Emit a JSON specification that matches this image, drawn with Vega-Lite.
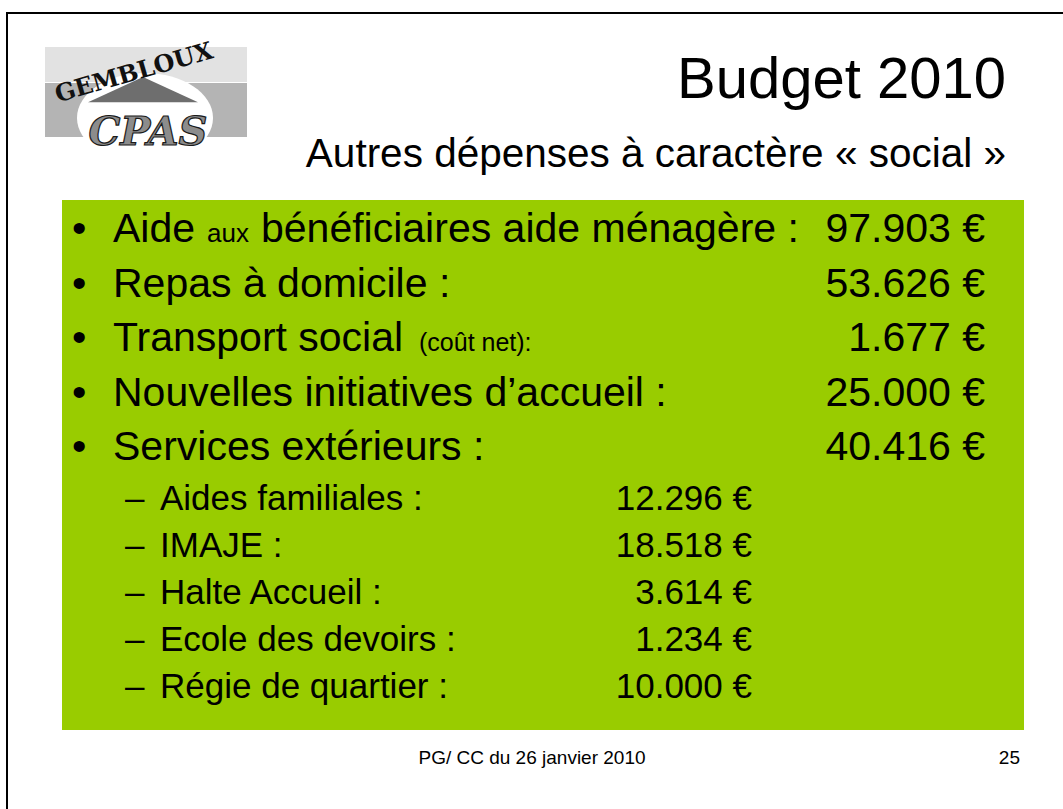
{
  "$schema": "https://vega.github.io/schema/vega-lite/v6.json",
  "width": 962,
  "height": 530,
  "autosize": {"type": "none"},
  "padding": {"left": 62, "top": 200, "right": 39, "bottom": 79},
  "background": "white",
  "view": {"fill": "#99CC00", "stroke": null},
  "config": {"text": {"font": "Liberation Sans", "color": "black", "baseline": "alphabetic"}},
  "datasets": {
    "header": [
      {"title": "Budget 2010", "subtitle": "Autres dépenses à caractère « social »"}
    ],
    "main": [
      {"line": 1, "label": "Aide", "note": "aux", "rest": "bénéficiaires aide ménagère :", "amount": "97.903 €"},
      {"line": 2, "label": "Repas à domicile :", "amount": "53.626 €"},
      {"line": 3, "label": "Transport social", "note": "(coût net):", "amount": "1.677 €"},
      {"line": 4, "label": "Nouvelles initiatives d’accueil :", "amount": "25.000 €"},
      {"line": 5, "label": "Services extérieurs :", "amount": "40.416 €"}
    ],
    "sub": [
      {"line": 1, "label": "Aides familiales :", "amount": "12.296 €"},
      {"line": 2, "label": "IMAJE :", "amount": "18.518 €"},
      {"line": 3, "label": "Halte Accueil :", "amount": "3.614 €"},
      {"line": 4, "label": "Ecole des devoirs :", "amount": "1.234 €"},
      {"line": 5, "label": "Régie de quartier :", "amount": "10.000 €"}
    ],
    "footer": [
      {"text": "PG/ CC du 26 janvier 2010", "page": "25"}
    ],
    "logo": [
      {"name": "GEMBLOUX", "initials": "CPAS"}
    ]
  },
  "resolve": {"scale": {"y": "independent"}},
  "layer": [
    {
      "data": {"name": "logo"},
      "mark": {"type": "rect", "color": "#e2e2e2"},
      "encoding": {
        "x": {"datum": 45, "type": "quantitative", "scale": {"domain": [0, 1063], "range": [-62, 1001], "zero": false, "nice": false}, "axis": null},
        "x2": {"datum": 247},
        "y": {"datum": 47, "type": "quantitative", "scale": {"domain": [0, 809], "range": [-200, 609], "zero": false, "nice": false}, "axis": null},
        "y2": {"datum": 82}
      }
    },
    {
      "data": {"name": "logo"},
      "mark": {"type": "rect", "color": "#b4b4b4"},
      "encoding": {
        "x": {"datum": 45, "type": "quantitative", "scale": {"domain": [0, 1063], "range": [-62, 1001], "zero": false, "nice": false}, "axis": null},
        "x2": {"datum": 247},
        "y": {"datum": 83, "type": "quantitative", "scale": {"domain": [0, 809], "range": [-200, 609], "zero": false, "nice": false}, "axis": null},
        "y2": {"datum": 137}
      }
    },
    {
      "data": {"name": "logo"},
      "mark": {"type": "point", "filled": true, "color": "#d6d6d6", "opacity": 1, "shape": "circle", "size": 1600},
      "encoding": {
        "x": {"datum": 143, "type": "quantitative", "scale": {"domain": [0, 1063], "range": [-62, 1001], "zero": false, "nice": false}, "axis": null},
        "y": {"datum": 92, "type": "quantitative", "scale": {"domain": [0, 809], "range": [-200, 609], "zero": false, "nice": false}, "axis": null}
      }
    },
    {
      "data": {"name": "logo"},
      "mark": {"type": "point", "filled": true, "color": "white", "opacity": 1, "shape": "M-1,0 A1,0.66 0 1,1 1,0 A1,0.66 0 1,1 -1,0 Z", "size": 18500},
      "encoding": {
        "x": {"datum": 145, "type": "quantitative", "scale": {"domain": [0, 1063], "range": [-62, 1001], "zero": false, "nice": false}, "axis": null},
        "y": {"datum": 118, "type": "quantitative", "scale": {"domain": [0, 809], "range": [-200, 609], "zero": false, "nice": false}, "axis": null}
      }
    },
    {
      "data": {"name": "logo"},
      "mark": {"type": "point", "filled": true, "color": "#6e6e6e", "opacity": 1, "shape": "M0,-0.42 L1,0.04 L-1,0.04 Z", "size": 12100},
      "encoding": {
        "x": {"datum": 143, "type": "quantitative", "scale": {"domain": [0, 1063], "range": [-62, 1001], "zero": false, "nice": false}, "axis": null},
        "y": {"datum": 100, "type": "quantitative", "scale": {"domain": [0, 809], "range": [-200, 609], "zero": false, "nice": false}, "axis": null}
      }
    },
    {
      "data": {"name": "logo"},
      "mark": {"type": "text", "font": "DejaVu Serif", "fontWeight": "bold", "fontSize": 24, "angle": 344, "align": "center", "color": "#111111"},
      "encoding": {
        "text": {"field": "name"},
        "x": {"datum": 136, "type": "quantitative", "scale": {"domain": [0, 1063], "range": [-62, 1001], "zero": false, "nice": false}, "axis": null},
        "y": {"datum": 80, "type": "quantitative", "scale": {"domain": [0, 809], "range": [-200, 609], "zero": false, "nice": false}, "axis": null}
      }
    },
    {
      "data": {"name": "logo"},
      "mark": {"type": "text", "font": "DejaVu Serif", "fontWeight": "bold", "fontStyle": "italic", "fontSize": 40, "align": "center", "color": "#8c8c8c", "stroke": "#1a1a1a", "strokeWidth": 1.2},
      "encoding": {
        "text": {"field": "initials"},
        "x": {"datum": 148, "type": "quantitative", "scale": {"domain": [0, 1063], "range": [-62, 1001], "zero": false, "nice": false}, "axis": null},
        "y": {"datum": 145, "type": "quantitative", "scale": {"domain": [0, 809], "range": [-200, 609], "zero": false, "nice": false}, "axis": null}
      }
    },
    {
      "data": {"name": "logo"},
      "mark": {"type": "rule", "color": "black", "strokeWidth": 2},
      "encoding": {
        "x": {"datum": 7, "type": "quantitative", "scale": {"domain": [0, 1063], "range": [-62, 1001], "zero": false, "nice": false}, "axis": null},
        "y": {"datum": 13, "type": "quantitative", "scale": {"domain": [0, 809], "range": [-200, 609], "zero": false, "nice": false}, "axis": null},
        "y2": {"datum": 809}
      }
    },
    {
      "data": {"name": "logo"},
      "mark": {"type": "rule", "color": "black", "strokeWidth": 2},
      "encoding": {
        "x": {"datum": 6, "type": "quantitative", "scale": {"domain": [0, 1063], "range": [-62, 1001], "zero": false, "nice": false}, "axis": null},
        "x2": {"datum": 1063},
        "y": {"datum": 13, "type": "quantitative", "scale": {"domain": [0, 809], "range": [-200, 609], "zero": false, "nice": false}, "axis": null}
      }
    },
    {
      "data": {"name": "header"},
      "mark": {"type": "text", "fontSize": 58, "align": "right"},
      "encoding": {
        "text": {"field": "title"},
        "x": {"datum": 1006, "type": "quantitative", "scale": {"domain": [0, 1063], "range": [-62, 1001], "zero": false, "nice": false}, "axis": null},
        "y": {"datum": 98, "type": "quantitative", "scale": {"domain": [0, 809], "range": [-200, 609], "zero": false, "nice": false}, "axis": null}
      }
    },
    {
      "data": {"name": "header"},
      "mark": {"type": "text", "fontSize": 40.5, "align": "right"},
      "encoding": {
        "text": {"field": "subtitle"},
        "x": {"datum": 1006, "type": "quantitative", "scale": {"domain": [0, 1063], "range": [-62, 1001], "zero": false, "nice": false}, "axis": null},
        "y": {"datum": 167, "type": "quantitative", "scale": {"domain": [0, 809], "range": [-200, 609], "zero": false, "nice": false}, "axis": null}
      }
    },
    {
      "data": {"name": "main"},
      "mark": {"type": "text", "fontSize": 41, "align": "left"},
      "encoding": {
        "text": {"value": "•"},
        "x": {"datum": 72, "type": "quantitative", "scale": {"domain": [0, 1063], "range": [-62, 1001], "zero": false, "nice": false}, "axis": null},
        "y": {"field": "line", "type": "quantitative", "scale": {"domain": [1, 5], "range": [42, 260], "zero": false, "nice": false}, "axis": null}
      }
    },
    {
      "data": {"name": "main"},
      "mark": {"type": "text", "fontSize": 41, "align": "left"},
      "encoding": {
        "text": {"field": "label"},
        "x": {"datum": 113, "type": "quantitative", "scale": {"domain": [0, 1063], "range": [-62, 1001], "zero": false, "nice": false}, "axis": null},
        "y": {"field": "line", "type": "quantitative", "scale": {"domain": [1, 5], "range": [42, 260], "zero": false, "nice": false}, "axis": null}
      }
    },
    {
      "data": {"name": "main"},
      "transform": [{"filter": "datum.line === 1"}],
      "mark": {"type": "text", "fontSize": 26, "align": "left"},
      "encoding": {
        "text": {"field": "note"},
        "x": {"datum": 207, "type": "quantitative", "scale": {"domain": [0, 1063], "range": [-62, 1001], "zero": false, "nice": false}, "axis": null},
        "y": {"field": "line", "type": "quantitative", "scale": {"domain": [1, 5], "range": [42, 260], "zero": false, "nice": false}, "axis": null}
      }
    },
    {
      "data": {"name": "main"},
      "transform": [{"filter": "datum.line === 1"}],
      "mark": {"type": "text", "fontSize": 41, "align": "left"},
      "encoding": {
        "text": {"field": "rest"},
        "x": {"datum": 261, "type": "quantitative", "scale": {"domain": [0, 1063], "range": [-62, 1001], "zero": false, "nice": false}, "axis": null},
        "y": {"field": "line", "type": "quantitative", "scale": {"domain": [1, 5], "range": [42, 260], "zero": false, "nice": false}, "axis": null}
      }
    },
    {
      "data": {"name": "main"},
      "transform": [{"filter": "datum.line === 3"}],
      "mark": {"type": "text", "fontSize": 25, "align": "left"},
      "encoding": {
        "text": {"field": "note"},
        "x": {"datum": 419, "type": "quantitative", "scale": {"domain": [0, 1063], "range": [-62, 1001], "zero": false, "nice": false}, "axis": null},
        "y": {"field": "line", "type": "quantitative", "scale": {"domain": [1, 5], "range": [42, 260], "zero": false, "nice": false}, "axis": null}
      }
    },
    {
      "data": {"name": "main"},
      "mark": {"type": "text", "fontSize": 41, "align": "right"},
      "encoding": {
        "text": {"field": "amount"},
        "x": {"datum": 985, "type": "quantitative", "scale": {"domain": [0, 1063], "range": [-62, 1001], "zero": false, "nice": false}, "axis": null},
        "y": {"field": "line", "type": "quantitative", "scale": {"domain": [1, 5], "range": [42, 260], "zero": false, "nice": false}, "axis": null}
      }
    },
    {
      "data": {"name": "sub"},
      "mark": {"type": "text", "fontSize": 35, "align": "left"},
      "encoding": {
        "text": {"value": "–"},
        "x": {"datum": 125, "type": "quantitative", "scale": {"domain": [0, 1063], "range": [-62, 1001], "zero": false, "nice": false}, "axis": null},
        "y": {"field": "line", "type": "quantitative", "scale": {"domain": [1, 5], "range": [310, 498], "zero": false, "nice": false}, "axis": null}
      }
    },
    {
      "data": {"name": "sub"},
      "mark": {"type": "text", "fontSize": 35, "align": "left"},
      "encoding": {
        "text": {"field": "label"},
        "x": {"datum": 160, "type": "quantitative", "scale": {"domain": [0, 1063], "range": [-62, 1001], "zero": false, "nice": false}, "axis": null},
        "y": {"field": "line", "type": "quantitative", "scale": {"domain": [1, 5], "range": [310, 498], "zero": false, "nice": false}, "axis": null}
      }
    },
    {
      "data": {"name": "sub"},
      "mark": {"type": "text", "fontSize": 35, "align": "right"},
      "encoding": {
        "text": {"field": "amount"},
        "x": {"datum": 752, "type": "quantitative", "scale": {"domain": [0, 1063], "range": [-62, 1001], "zero": false, "nice": false}, "axis": null},
        "y": {"field": "line", "type": "quantitative", "scale": {"domain": [1, 5], "range": [310, 498], "zero": false, "nice": false}, "axis": null}
      }
    },
    {
      "data": {"name": "footer"},
      "mark": {"type": "text", "fontSize": 19, "align": "center"},
      "encoding": {
        "text": {"field": "text"},
        "x": {"datum": 532, "type": "quantitative", "scale": {"domain": [0, 1063], "range": [-62, 1001], "zero": false, "nice": false}, "axis": null},
        "y": {"datum": 764, "type": "quantitative", "scale": {"domain": [0, 809], "range": [-200, 609], "zero": false, "nice": false}, "axis": null}
      }
    },
    {
      "data": {"name": "footer"},
      "mark": {"type": "text", "fontSize": 19, "align": "right"},
      "encoding": {
        "text": {"field": "page"},
        "x": {"datum": 1020, "type": "quantitative", "scale": {"domain": [0, 1063], "range": [-62, 1001], "zero": false, "nice": false}, "axis": null},
        "y": {"datum": 764, "type": "quantitative", "scale": {"domain": [0, 809], "range": [-200, 609], "zero": false, "nice": false}, "axis": null}
      }
    }
  ]
}
